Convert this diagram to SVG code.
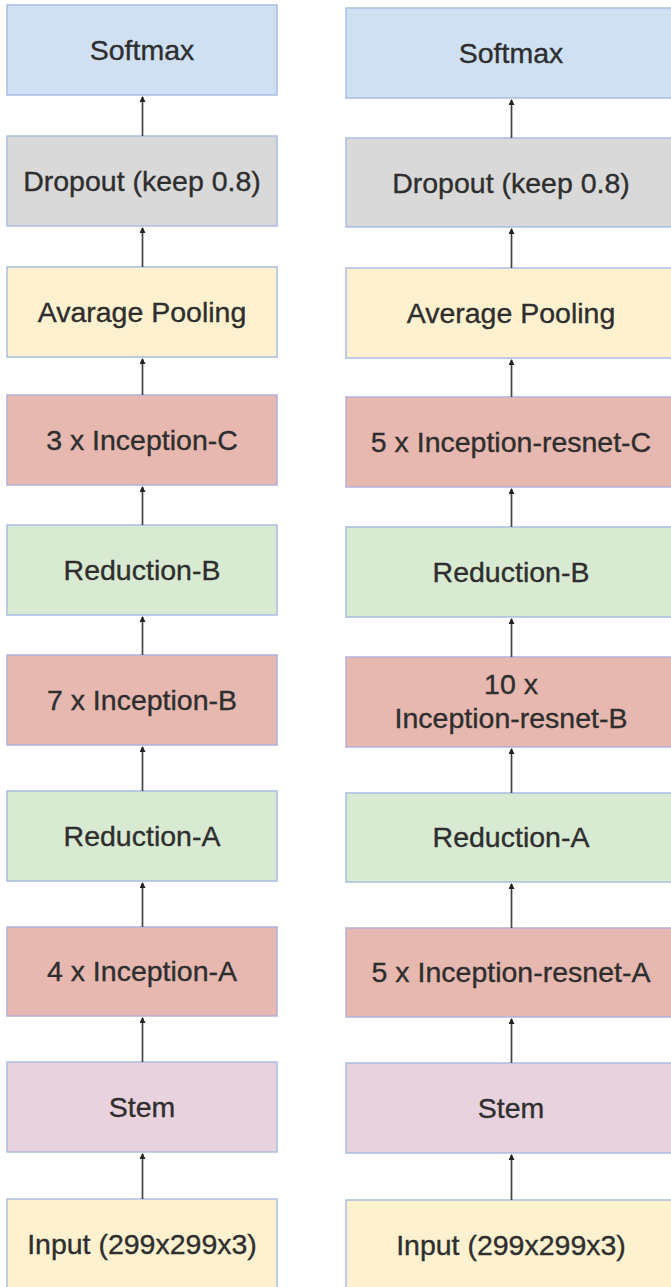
<svg xmlns="http://www.w3.org/2000/svg" width="671" height="1287" viewBox="0 0 671 1287">
  <style>
    .box { stroke: #a9bde2; stroke-width: 1.5; }
    .softmax { fill: #cfe0f2; }
    .dropout { fill: #d9d9d9; }
    .pool { fill: #fdf1cf; }
    .incep { fill: #e6b8af; stroke: #b6aedb; }
    .reduct { fill: #d9ead3; }
    .stem { fill: #e8d2dd; }
    .input { fill: #fdf1cf; }
    .lbl { font-family: "Liberation Sans", Arial, sans-serif; font-size: 28.5px; fill: #2e2e2e; stroke: #2e2e2e; stroke-width: 0.35; text-anchor: middle; }
    .edge { stroke: #444444; stroke-width: 1.7; fill: none; marker-end: url(#tip); }
  </style>
  <defs>
    <marker id="tip" viewBox="0 0 6 8" refX="5" refY="3" markerWidth="6" markerHeight="8" markerUnits="userSpaceOnUse" orient="auto">
      <path d="M0,0 L6,3 L0,6 Z" fill="#222"/>
    </marker>
  </defs>
  <rect width="671" height="1287" fill="#ffffff"/>

  <!-- Inception-v4 column -->
  <g id="v4-softmax"><rect class="box softmax" x="7" y="5" width="270" height="90"/><text class="lbl" x="142" y="60">Softmax</text></g>
  <g id="v4-dropout"><rect class="box dropout" x="7" y="136" width="270" height="90"/><text class="lbl" x="142" y="191">Dropout (keep 0.8)</text></g>
  <g id="v4-pool"><rect class="box pool" x="7" y="267" width="270" height="90"/><text class="lbl" x="142" y="322">Avarage Pooling</text></g>
  <g id="v4-incep-c"><rect class="box incep" x="7" y="395" width="270" height="90"/><text class="lbl" x="142" y="450">3 x Inception-C</text></g>
  <g id="v4-reduct-b"><rect class="box reduct" x="7" y="525" width="270" height="90"/><text class="lbl" x="142" y="580">Reduction-B</text></g>
  <g id="v4-incep-b"><rect class="box incep" x="7" y="655" width="270" height="90"/><text class="lbl" x="142" y="710">7 x Inception-B</text></g>
  <g id="v4-reduct-a"><rect class="box reduct" x="7" y="791" width="270" height="90"/><text class="lbl" x="142" y="846">Reduction-A</text></g>
  <g id="v4-incep-a"><rect class="box incep" x="7" y="927" width="270" height="89"/><text class="lbl" x="142" y="981">4 x Inception-A</text></g>
  <g id="v4-stem"><rect class="box stem" x="7" y="1062" width="270" height="90"/><text class="lbl" x="142" y="1117">Stem</text></g>
  <g id="v4-input"><rect class="box input" x="7" y="1199" width="270" height="92"/><text class="lbl" x="142" y="1254">Input (299x299x3)</text></g>

  <!-- Inception-ResNet column -->
  <g id="res-softmax"><rect class="box softmax" x="346" y="8" width="335" height="90"/><text class="lbl" x="511" y="63">Softmax</text></g>
  <g id="res-dropout"><rect class="box dropout" x="346" y="138" width="335" height="89"/><text class="lbl" x="511" y="193">Dropout (keep 0.8)</text></g>
  <g id="res-pool"><rect class="box pool" x="346" y="268" width="335" height="90"/><text class="lbl" x="511" y="323">Average Pooling</text></g>
  <g id="res-incep-c"><rect class="box incep" x="346" y="397" width="335" height="90"/><text class="lbl" x="511" y="452">5 x Inception-resnet-C</text></g>
  <g id="res-reduct-b"><rect class="box reduct" x="346" y="527" width="335" height="90"/><text class="lbl" x="511" y="582">Reduction-B</text></g>
  <g id="res-incep-b"><rect class="box incep" x="346" y="657" width="335" height="90"/><text class="lbl" x="511" y="694">10 x</text><text class="lbl" x="511" y="728">Inception-resnet-B</text></g>
  <g id="res-reduct-a"><rect class="box reduct" x="346" y="793" width="335" height="89"/><text class="lbl" x="511" y="847">Reduction-A</text></g>
  <g id="res-incep-a"><rect class="box incep" x="346" y="928" width="335" height="89"/><text class="lbl" x="511" y="982">5 x Inception-resnet-A</text></g>
  <g id="res-stem"><rect class="box stem" x="346" y="1063" width="335" height="90"/><text class="lbl" x="511" y="1118">Stem</text></g>
  <g id="res-input"><rect class="box input" x="346" y="1200" width="335" height="92"/><text class="lbl" x="511" y="1255">Input (299x299x3)</text></g>

  <!-- connectors, each pointing up to the next layer -->
  <g id="connectors">
    <path class="edge" d="M142.5,136 V97"/>
    <path class="edge" d="M142.5,267 V228"/>
    <path class="edge" d="M142.5,395 V359"/>
    <path class="edge" d="M142.5,525 V487"/>
    <path class="edge" d="M142.5,655 V617"/>
    <path class="edge" d="M142.5,791 V747"/>
    <path class="edge" d="M142.5,927 V883"/>
    <path class="edge" d="M142.5,1062 V1018"/>
    <path class="edge" d="M142.5,1199 V1154"/>

    <path class="edge" d="M511.5,138 V100"/>
    <path class="edge" d="M511.5,268 V229"/>
    <path class="edge" d="M511.5,397 V360"/>
    <path class="edge" d="M511.5,527 V489"/>
    <path class="edge" d="M511.5,657 V619"/>
    <path class="edge" d="M511.5,793 V749"/>
    <path class="edge" d="M511.5,928 V884"/>
    <path class="edge" d="M511.5,1063 V1019"/>
    <path class="edge" d="M511.5,1200 V1155"/>
  </g>
</svg>
